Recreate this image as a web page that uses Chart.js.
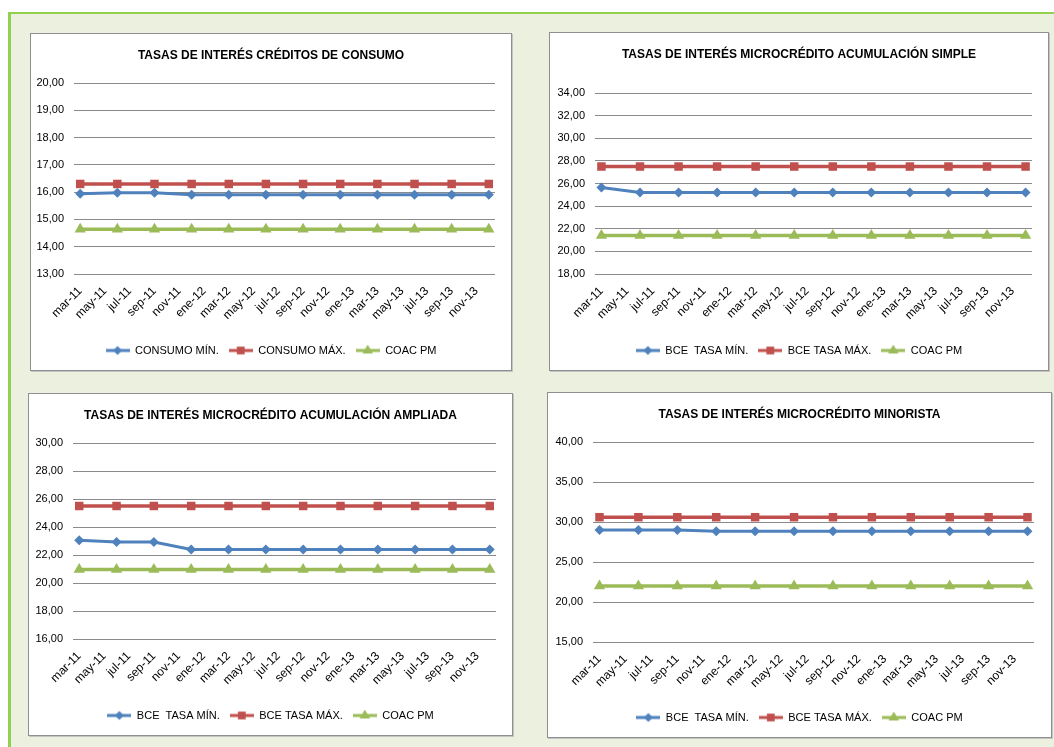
<!DOCTYPE html>
<html>
<head>
<meta charset="utf-8">
<script src="https://cdn.jsdelivr.net/npm/chart.js@4.4.0/dist/chart.umd.min.js"></script>
<style>
  body { margin: 0; background: #fff; width: 1054px; height: 747px; overflow: hidden; position: relative; }
  #marco { position: absolute; left: 8px; top: 12px; width: 1100px; height: 800px; background: #ebf1de;
           border-left: 3px solid #92d050; border-top: 2px solid #92d050; }
  .panel { position: absolute; background: #fff; border: 1px solid #8f8f8f; box-shadow: 1px 1px 0 #c4c4c4; }
  .panel canvas { display: block; }
</style>
</head>
<body>
<div id="marco"></div>
<div class="panel" style="left:30px;top:33px;"><canvas id="g1" width="480" height="336"></canvas></div>
<div class="panel" style="left:549px;top:32px;"><canvas id="g2" width="498" height="337"></canvas></div>
<div class="panel" style="left:28px;top:393px;"><canvas id="g3" width="483" height="341"></canvas></div>
<div class="panel" style="left:547px;top:392px;"><canvas id="g4" width="503" height="344"></canvas></div>
<script>
// etiquetas del eje (cada dos meses)
const etiquetasEje = ['mar-11', 'may-11', 'jul-11', 'sep-11', 'nov-11', 'ene-12', 'mar-12', 'may-12', 'jul-12',
  'sep-12', 'nov-12', 'ene-13', 'mar-13', 'may-13', 'jul-13', 'sep-13', 'nov-13'];
// fechas de los datos (trimestrales)
const fechasDatos = ['mar-11', 'jun-11', 'sep-11', 'dic-11', 'mar-12', 'jun-12', 'sep-12', 'dic-12',
  'mar-13', 'jun-13', 'sep-13', 'dic-13'];

const consumoMin = [15.94, 15.98, 15.98, 15.90, 15.90, 15.90, 15.90, 15.90, 15.90, 15.90, 15.90, 15.90];
const consumoMax = [16.30, 16.30, 16.30, 16.30, 16.30, 16.30, 16.30, 16.30, 16.30, 16.30, 16.30, 16.30];
const consumoCoac = [14.64, 14.64, 14.64, 14.64, 14.64, 14.64, 14.64, 14.64, 14.64, 14.64, 14.64, 14.64];

const simpleMin = [25.65, 25.20, 25.20, 25.20, 25.20, 25.20, 25.20, 25.20, 25.20, 25.20, 25.20, 25.20];
const simpleMax = [27.50, 27.50, 27.50, 27.50, 27.50, 27.50, 27.50, 27.50, 27.50, 27.50, 27.50, 27.50];
const simpleCoac = [21.40, 21.40, 21.40, 21.40, 21.40, 21.40, 21.40, 21.40, 21.40, 21.40, 21.40, 21.40];

const ampliadaMin = [23.05, 22.92, 22.92, 22.40, 22.40, 22.40, 22.40, 22.40, 22.40, 22.40, 22.40, 22.40];
const ampliadaMax = [25.50, 25.50, 25.50, 25.50, 25.50, 25.50, 25.50, 25.50, 25.50, 25.50, 25.50, 25.50];
const ampliadaCoac = [20.97, 20.97, 20.97, 20.97, 20.97, 20.97, 20.97, 20.97, 20.97, 20.97, 20.97, 20.97];

const minoristaMin = [29.00, 29.00, 29.00, 28.83, 28.83, 28.83, 28.83, 28.83, 28.83, 28.83, 28.83, 28.83];
const minoristaMax = [30.60, 30.60, 30.60, 30.60, 30.60, 30.60, 30.60, 30.60, 30.60, 30.60, 30.60, 30.60];
const minoristaCoac = [22.00, 22.00, 22.00, 22.00, 22.00, 22.00, 22.00, 22.00, 22.00, 22.00, 22.00, 22.00];

const nombresConsumo = ['CONSUMO MÍN.', 'CONSUMO MÁX.', 'COAC PM'];
const nombresBce = ['BCE  TASA MÍN.', 'BCE TASA MÁX.', 'COAC PM'];

Chart.defaults.font.family = "'Liberation Sans', Arial, sans-serif";
Chart.defaults.color = '#000';

const colores = ['#4f81bd', '#c0504d', '#9bbb59'];
const estilos = ['rectRot', 'rect', 'triangle'];
const radios = [5, 6, 6.5];
const mesesAbrev = ['ene', 'feb', 'mar', 'abr', 'may', 'jun', 'jul', 'ago', 'sep', 'oct', 'nov', 'dic'];

// posición en meses desde mar-11
function mesIndice(f) {
  const [m, a] = f.split('-');
  return (Number(a) - 11) * 12 + mesesAbrev.indexOf(m) - 2;
}

// icono de leyenda: línea con el marcador al centro
function iconoLeyenda(i) {
  const c = document.createElement('canvas');
  c.width = 24; c.height = 12;
  const ctx = c.getContext('2d');
  ctx.strokeStyle = colores[i];
  ctx.fillStyle = colores[i];
  ctx.lineWidth = 3;
  ctx.beginPath(); ctx.moveTo(0, 6); ctx.lineTo(24, 6); ctx.stroke();
  Chart.helpers.drawPoint(ctx, { pointStyle: estilos[i], radius: radios[i] - 0.5, borderWidth: 0, rotation: 0 }, 12, 6);
  return c;
}

function grafico(id, titulo, nombres, series, eje, caja) {
  const ctx = document.getElementById(id).getContext('2d');
  const alto = ctx.canvas.height;
  return new Chart(ctx, {
    type: 'line',
    data: {
      datasets: series.map((s, i) => ({
        label: nombres[i],
        data: s.map((v, j) => ({ x: mesIndice(fechasDatos[j]), y: v })),
        borderColor: colores[i],
        backgroundColor: colores[i],
        borderWidth: i === 0 ? 3 : 3.5,
        pointStyle: estilos[i],
        pointRadius: radios[i],
        pointBorderWidth: 0,
        tension: 0
      }))
    },
    options: {
      responsive: false,
      animation: false,
      layout: { padding: { left: 0, right: 0, top: 0, bottom: 4 } },
      plugins: {
        title: {
          display: true, text: titulo, color: '#000',
          font: { size: 12, weight: 'bold' },
          padding: { top: 14, bottom: caja.arriba - 14 - 14.4 }
        },
        legend: {
          position: 'bottom',
          labels: {
            usePointStyle: true, pointStyleWidth: 24, padding: 10,
            font: { size: 11 }, color: '#000',
            generateLabels: ch => ch.data.datasets.map((d, i) => ({
              text: d.label, pointStyle: iconoLeyenda(i), fillStyle: colores[i],
              strokeStyle: colores[i], lineWidth: 0, hidden: false, datasetIndex: i, fontColor: '#000'
            }))
          }
        },
        tooltip: { enabled: false }
      },
      scales: {
        x: {
          type: 'linear', min: -0.5, max: 33.5,
          afterBuildTicks: ax => { ax.ticks = etiquetasEje.map((_, k) => ({ value: k * 2 })); },
          afterFit: ax => { ax.height = alto - 4 - 31 - caja.abajo; },
          ticks: {
            callback: v => etiquetasEje[v / 2],
            minRotation: 45, maxRotation: 45, autoSkip: false, padding: 2,
            font: { size: 12 }, color: '#000'
          },
          grid: { display: false },
          border: { display: false }
        },
        y: {
          min: eje.min, max: eje.max,
          afterFit: ax => { ax.width = caja.izquierda; },
          ticks: {
            stepSize: eje.paso,
            callback: v => v.toFixed(2).replace('.', ','),
            padding: 10, font: { size: 11 }, color: '#000'
          },
          grid: { color: '#8a8a8a', lineWidth: 1, drawTicks: false },
          border: { display: false }
        },
        // margen derecho vacío, para que título y leyenda queden centrados en el panel
        margen: {
          position: 'right', display: true,
          afterFit: ax => { ax.width = caja.derecha; },
          ticks: { display: false }, grid: { display: false }, border: { display: false }
        }
      }
    }
  });
}

grafico('g1', 'TASAS DE INTERÉS CRÉDITOS DE CONSUMO', nombresConsumo,
  [consumoMin, consumoMax, consumoCoac], { min: 13, max: 20, paso: 1 },
  { izquierda: 43, derecha: 16, arriba: 49, abajo: 240 });
grafico('g2', 'TASAS DE INTERÉS MICROCRÉDITO ACUMULACIÓN SIMPLE', nombresBce,
  [simpleMin, simpleMax, simpleCoac], { min: 18, max: 34, paso: 2 },
  { izquierda: 45, derecha: 16, arriba: 60, abajo: 241 });
grafico('g3', 'TASAS DE INTERÉS MICROCRÉDITO ACUMULACIÓN AMPLIADA', nombresBce,
  [ampliadaMin, ampliadaMax, ampliadaCoac], { min: 16, max: 30, paso: 2 },
  { izquierda: 44, derecha: 16, arriba: 49, abajo: 245 });
grafico('g4', 'TASAS DE INTERÉS MICROCRÉDITO MINORISTA', nombresBce,
  [minoristaMin, minoristaMax, minoristaCoac], { min: 15, max: 40, paso: 5 },
  { izquierda: 45, derecha: 17, arriba: 49, abajo: 249 });
</script>
</body>
</html>
